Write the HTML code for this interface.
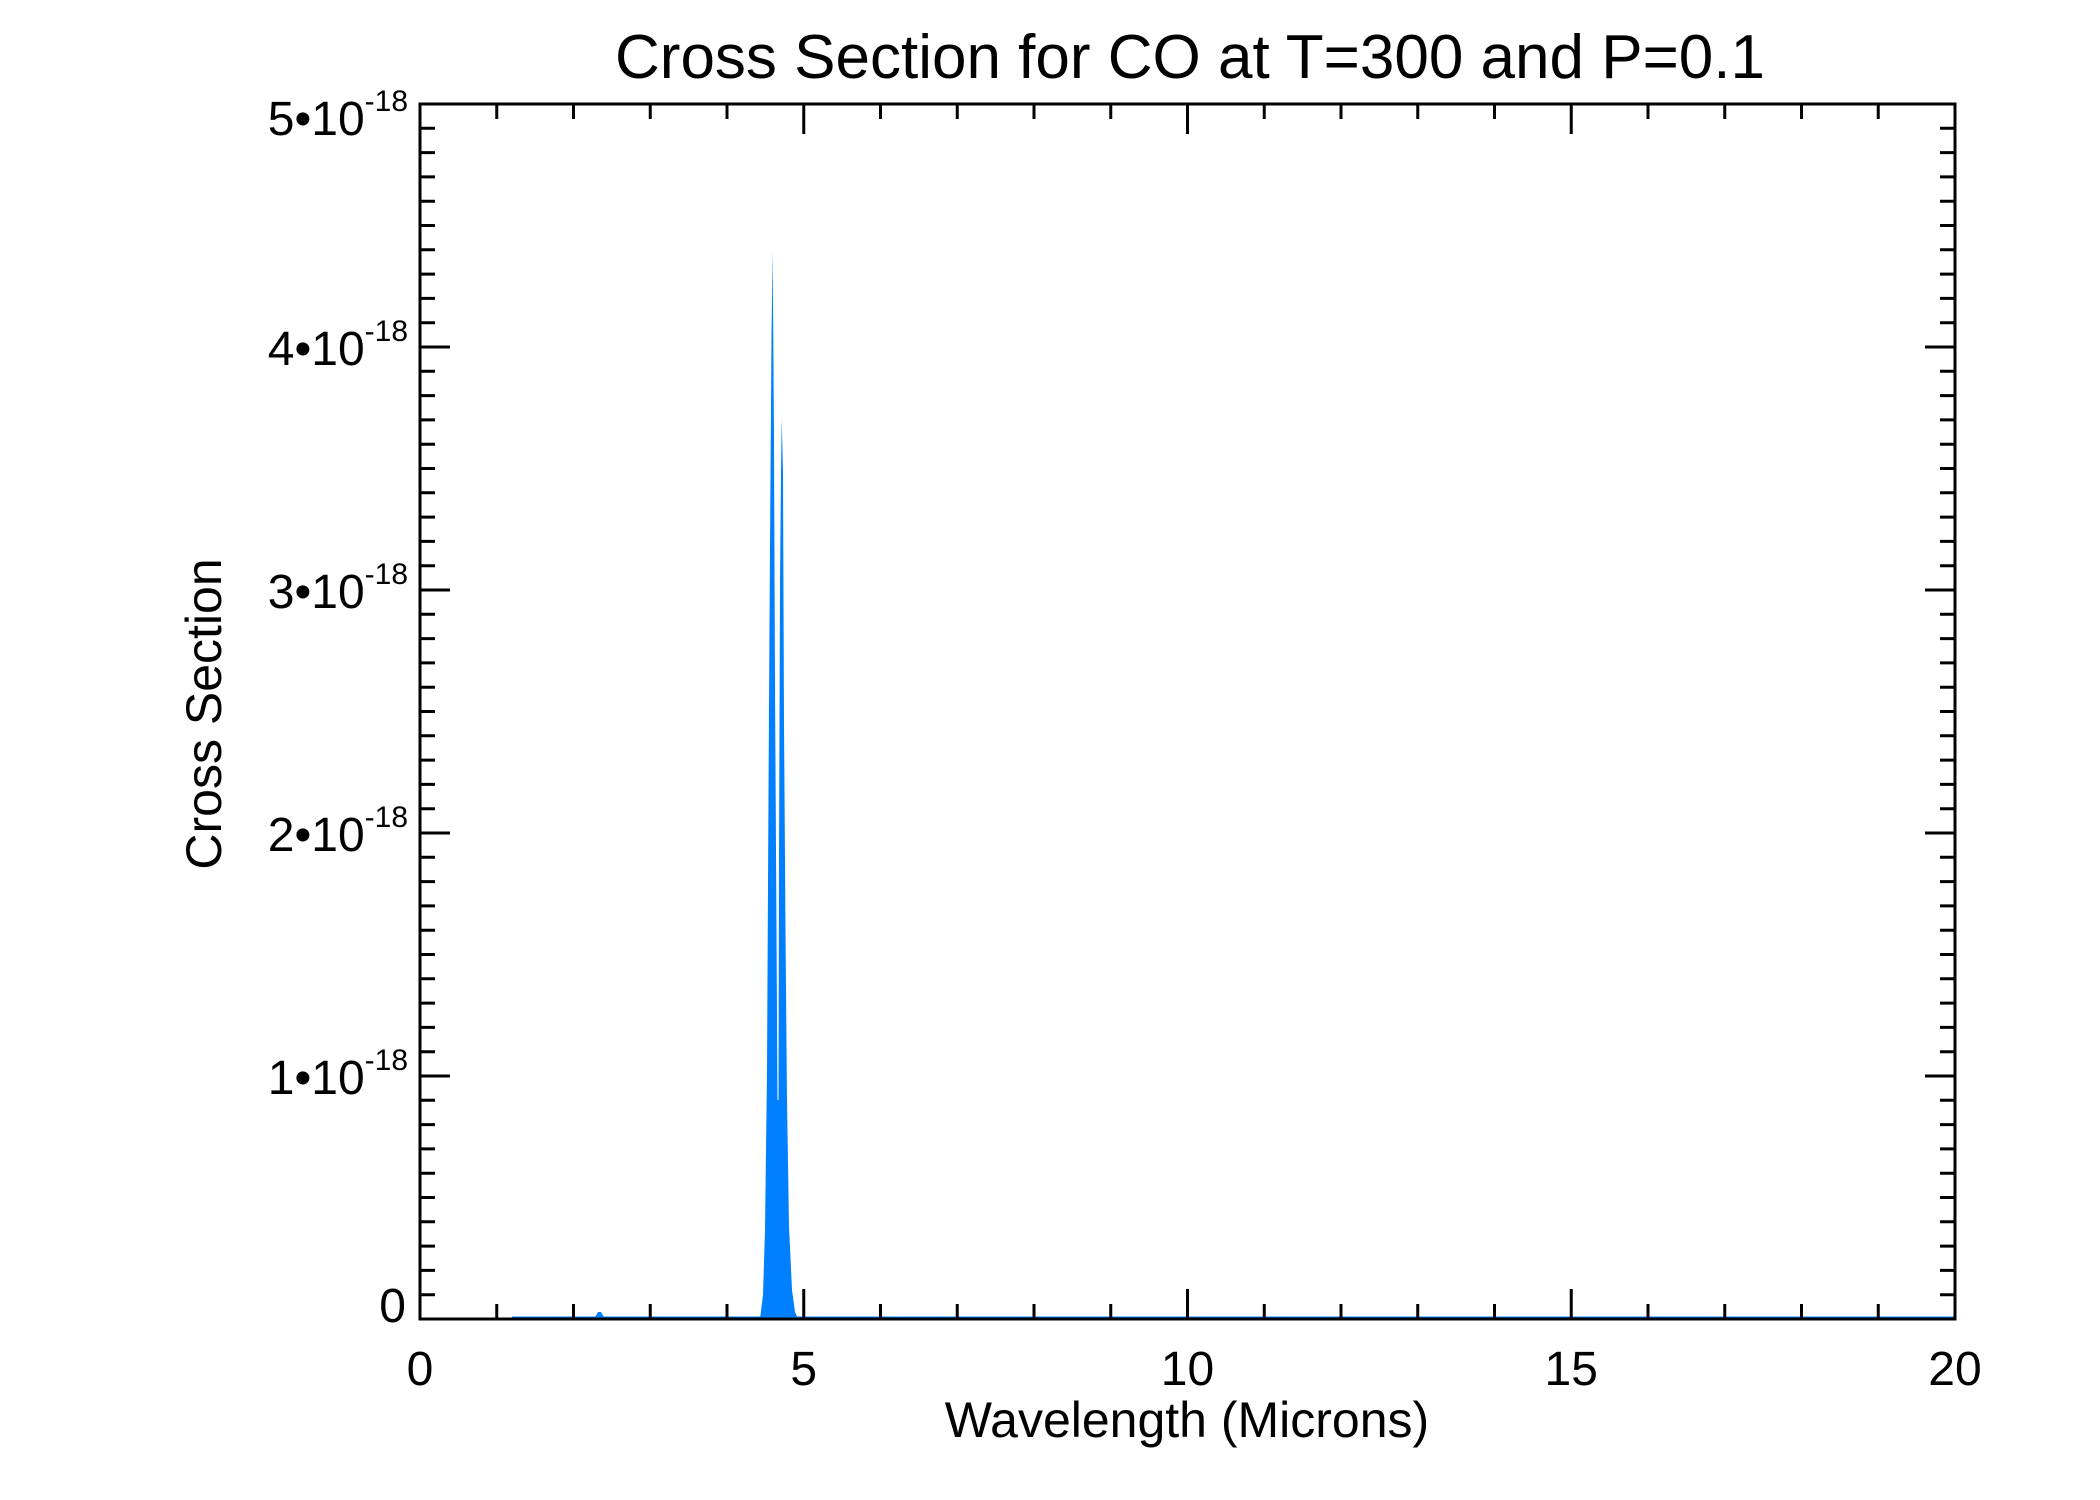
<!DOCTYPE html>
<html><head><meta charset="utf-8"><style>
html,body{margin:0;padding:0;background:#fff;}
svg{display:block;}
text{font-family:"Liberation Sans",sans-serif;fill:#000;}
</style></head><body>
<svg width="2100" height="1500" viewBox="0 0 2100 1500" xmlns="http://www.w3.org/2000/svg">
<rect width="2100" height="1500" fill="#fff"/>
<text x="1190" y="78" font-size="62" text-anchor="middle">Cross Section for CO at T=300 and P=0.1</text>
<line x1="512" y1="1318" x2="1955" y2="1318" stroke="#0080ff" stroke-width="3"/>
<path d="M594,1319 L598,1312 L601,1312 L605,1319 Z" fill="#0080ff"/>
<path d="M760,1319 L763,1295 L765,1230 L767,1072 L768.5,791 L770,546 L771.5,335 L772.7,252 L774,440 L775,686 L776.5,931 L777.5,1100 L778.5,1100 L779,861 L780,581 L781,475 L781.7,419 L783,472 L784,721 L785.5,931 L787,1100 L789,1226 L792,1290 L795,1312 L798,1319 Z" fill="#0080ff"/>
<rect x="420" y="104" width="1535" height="1215" fill="none" stroke="#000" stroke-width="3"/>
<g stroke="#000" stroke-width="3">
<path d="M420,1319v-30M803.75,1319v-30M1187.5,1319v-30M1571.25,1319v-30M420,104v30M803.75,104v30M1187.5,104v30M1571.25,104v30"/>
<path d="M496.75,1319v-15M573.5,1319v-15M650.25,1319v-15M727,1319v-15M880.5,1319v-15M957.25,1319v-15M1034,1319v-15M1110.75,1319v-15M1264.25,1319v-15M1341,1319v-15M1417.75,1319v-15M1494.5,1319v-15M1648,1319v-15M1724.75,1319v-15M1801.5,1319v-15M1878.25,1319v-15
M496.75,104v15M573.5,104v15M650.25,104v15M727,104v15M880.5,104v15M957.25,104v15M1034,104v15M1110.75,104v15M1264.25,104v15M1341,104v15M1417.75,104v15M1494.5,104v15M1648,104v15M1724.75,104v15M1801.5,104v15M1878.25,104v15"/>
<path d="M420,1076h30M420,833h30M420,590h30M420,347h30M1955,1076h-30M1955,833h-30M1955,590h-30M1955,347h-30"/>
</g>
<g stroke="#000" stroke-width="3" id="yminor"></g>
<g font-size="48" text-anchor="middle">
<text x="420" y="1385">0</text>
<text x="803.75" y="1385">5</text>
<text x="1187.5" y="1385">10</text>
<text x="1571.25" y="1385">15</text>
<text x="1955" y="1385">20</text>
</g>
<text x="1187" y="1437" font-size="50" text-anchor="middle">Wavelength (Microns)</text>
<text transform="translate(221,714) rotate(-90)" font-size="50" text-anchor="middle">Cross Section</text>
<g font-size="48" text-anchor="end">
<text x="406" y="1322">0</text>
<text x="408" y="1094">1•10<tspan font-size="30" dy="-24">-18</tspan></text>
<text x="408" y="851">2•10<tspan font-size="30" dy="-24">-18</tspan></text>
<text x="408" y="608">3•10<tspan font-size="30" dy="-24">-18</tspan></text>
<text x="408" y="365">4•10<tspan font-size="30" dy="-24">-18</tspan></text>
<text x="408" y="135">5•10<tspan font-size="30" dy="-24">-18</tspan></text>
</g>
<script>
var g=document.getElementById('yminor'),d='';
for(var i=1;i<50;i++){if(i%10==0)continue;var y=1319-i*24.3;d+='M420,'+y+'h15M1955,'+y+'h-15';}
var p=document.createElementNS('http://www.w3.org/2000/svg','path');p.setAttribute('d',d);g.appendChild(p);
</script>
</svg>
</body></html>
